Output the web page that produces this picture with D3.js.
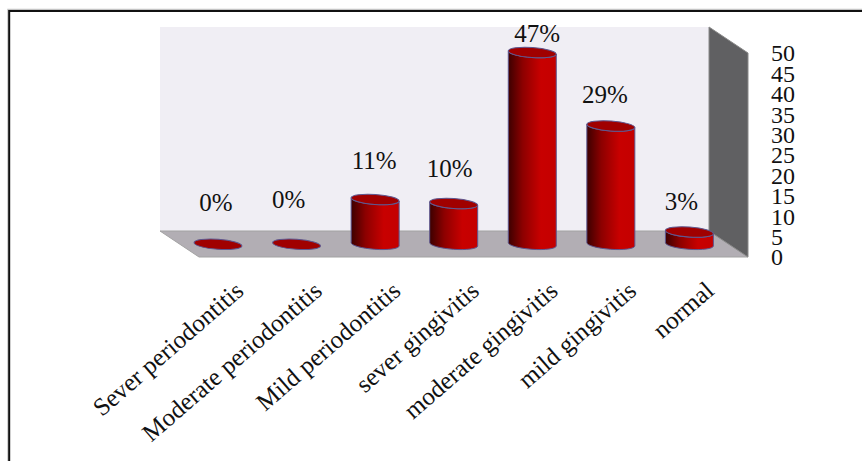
<!DOCTYPE html>
<html><head><meta charset="utf-8">
<script src="https://cdn.jsdelivr.net/npm/d3@7/dist/d3.min.js"></script>
<style>html,body{margin:0;padding:0;background:#fff}svg{display:block}text{font-family:"Liberation Serif",serif;fill:#111}</style>
</head><body><div id="chart"></div>
<script>
const categories = ["Sever periodontitis","Moderate periodontitis","Mild periodontitis","sever gingivitis","moderate gingivitis","mild gingivitis","normal"];
const values = [0,0,11,10,47,29,3];
const valueLabels = ["0%","0%","11%","10%","47%","29%","3%"];
const yTicks = [0,5,10,15,20,25,30,35,40,45,50];

const W=862,H=461;
const svg=d3.select("#chart").append("svg").attr("width",W).attr("height",H);
const defs=svg.append("defs");
const grad=defs.append("linearGradient").attr("id","cyl").attr("x1",0).attr("x2",1).attr("y1",0).attr("y2",0);
[[0,"#3c0000"],[0.3,"#8c0000"],[0.5,"#ac0000"],[0.68,"#c80000"],[1,"#c40000"]].forEach(s=>grad.append("stop").attr("offset",s[0]).attr("stop-color",s[1]));

// frame: top and left edges only
svg.append("path").attr("d",`M8,${H} V9.5 H${W}`).attr("fill","none").attr("stroke","#c4c4c4").attr("stroke-width",1.5);
svg.append("path").attr("d",`M9.2,${H} V11 H${W}`).attr("fill","none").attr("stroke","#111").attr("stroke-width",2);

const x=d3.scaleBand().domain(categories).range([178.7,728.7]).paddingInner(0);
const y=d3.scaleLinear().domain([0,50]).range([257,53]);   // front plane, for axis
const depth=y(0)-244.3;                                    // bars stand in the mid-depth plane
const line=d3.line();

// back wall, floor, side wall
const wall={l:160,r:709,t:27,b:231,dx:39,dy:26};
svg.append("path").attr("d",line([[wall.l,wall.t],[wall.r,wall.t],[wall.r,wall.b],[wall.l,wall.b]])+"Z").attr("fill","#f0eef4");
svg.append("path").attr("d",line([[wall.l,wall.b],[wall.r,wall.b],[wall.r+wall.dx,wall.b+wall.dy],[wall.l+wall.dx,wall.b+wall.dy]])+"Z").attr("fill","#b2aeb4").attr("stroke","#a2a2a2").attr("stroke-width",1);
svg.append("path").attr("d",line([[wall.r,wall.t],[wall.r+wall.dx,wall.t+wall.dy],[wall.r+wall.dx,wall.b+wall.dy],[wall.r,wall.b]])+"Z").attr("fill","#606062").attr("stroke","#8a8a8a").attr("stroke-width",1);

// y axis
const axis=d3.axisRight(y).tickValues(yTicks).tickSize(0).tickPadding(0);
const ag=svg.append("g").attr("transform",`translate(771,0)`).call(axis);
ag.select(".domain").remove();
ag.selectAll("text").attr("font-size",24).style("font-family",'"Liberation Serif",serif').attr("fill","#111").attr("dy","0.33em");

// cylinders
const rx=24, ry=5, rot=4, tilt=Math.sin(rot*Math.PI/180)*rx;
const bars=svg.append("g").selectAll("g").data(categories).join("g");
bars.each(function(c,i){
  const g=d3.select(this), cx=x(c)+x.bandwidth()/2, v=values[i];
  const yb=y(0)-depth, yt=y(v)-depth;
  const el=(yy)=>g.append("ellipse").attr("cx",cx).attr("cy",yy).attr("rx",rx).attr("ry",ry)
     .attr("transform",`rotate(${rot} ${cx} ${yy})`);
  if(v>0){
    g.append("path").attr("d",
      `M${cx-rx},${yt-tilt} L${cx-rx},${yb-tilt} A${rx},${ry} ${rot} 0 0 ${cx+rx},${yb+tilt} L${cx+rx},${yt+tilt} A${rx},${ry} ${rot} 0 1 ${cx-rx},${yt-tilt} Z`)
      .attr("fill","url(#cyl)").attr("stroke","#5e5890").attr("stroke-width",1);
  }
  el(yt).attr("fill","#a00000").attr("stroke","#5e5890").attr("stroke-width",1);
});

// value labels (hand-placed in the source chart)
const labelNudge=[-2,-8,-1,-4,5,-6,-8];
const labelBase=[211,208,169,177,42,103,210];
svg.append("g").selectAll("text").data(valueLabels).join("text")
  .attr("x",(d,i)=>x(categories[i])+x.bandwidth()/2+labelNudge[i])
  .attr("y",(d,i)=>labelBase[i])
  .attr("text-anchor","middle").attr("font-size",25).text(d=>d);

// category labels
svg.append("g").selectAll("text").data(categories).join("text")
  .attr("transform",(d,i)=>`translate(${x(d)+x.bandwidth()/2+(i==6?26:27)},${i==6?293:293}) rotate(-41)`)
  .attr("text-anchor","end").attr("font-size",25).text(d=>d);
</script></body></html>
